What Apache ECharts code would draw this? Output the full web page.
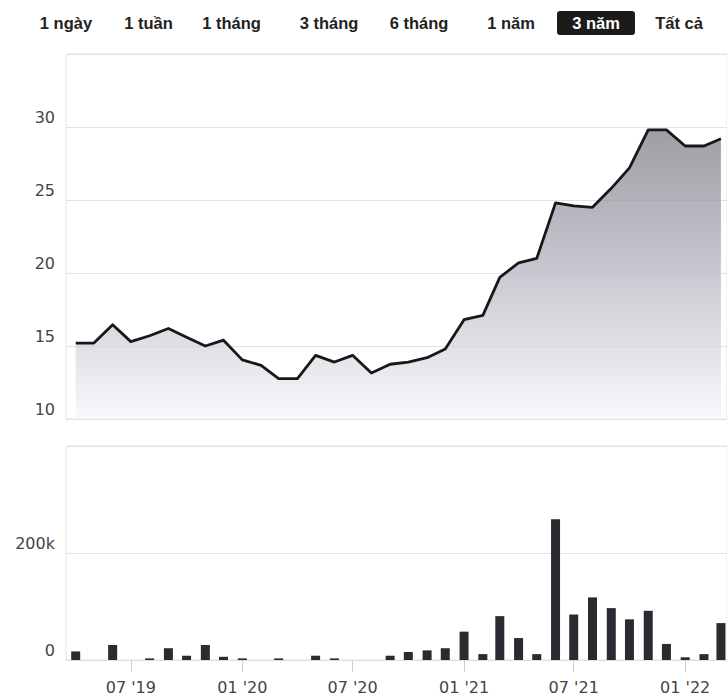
<!DOCTYPE html>
<html>
<head>
<meta charset="utf-8">
<script src="https://cdn.jsdelivr.net/npm/echarts@6/dist/echarts.min.js"></script>
<style>
html,body{margin:0;padding:0;background:#fff;}
#c{width:727px;height:695px;}
</style>
</head>
<body>
<div id="c"></div>
<script>
// ---- data ----
const months = [
  '2019-04-01','2019-05-01','2019-06-01','2019-07-01','2019-08-01','2019-09-01',
  '2019-10-01','2019-11-01','2019-12-01','2020-01-01','2020-02-01','2020-03-01',
  '2020-04-01','2020-05-01','2020-06-01','2020-07-01','2020-08-01','2020-09-01',
  '2020-10-01','2020-11-01','2020-12-01','2021-01-01','2021-02-01','2021-03-01',
  '2021-04-01','2021-05-01','2021-06-01','2021-07-01','2021-08-01','2021-09-01',
  '2021-10-01','2021-11-01','2021-12-01','2022-01-01','2022-02-01','2022-03-01'
];
const prices = [
  15.2, 15.2, 16.45, 15.3, 15.7, 16.2,
  15.6, 15.0, 15.4, 14.05, 13.67, 12.76,
  12.76, 14.36, 13.9, 14.36, 13.15, 13.75,
  13.9, 14.2, 14.8, 16.8, 17.1, 19.7,
  20.7, 21.0, 24.8, 24.6, 24.5, 25.8,
  27.2, 29.8, 29.8, 28.7, 28.7, 29.2
];
const volumes = [
  16000, null, 28000, null, 3000, 22000,
  8000, 28000, 6000, 3000, null, 3000,
  null, 8000, 3000, null, null, 8000,
  15000, 18000, 22000, 53000, 11000, 82000,
  41000, 11000, 263000, 85000, 117000, 97000,
  76000, 92000, 30000, 5000, 11000, 69000
];
const tickDates = ['2019-07-01','2020-01-01','2020-07-01','2021-01-01','2021-07-01','2022-01-01'];
const tickLabels = ["07 '19", "01 '20", "07 '20", "01 '21", "07 '21", "01 '22"];
const rangeButtons = ['1 ngày','1 tuần','1 tháng','3 tháng','6 tháng','1 năm','3 năm','Tất cả'];
const selectedRange = '3 năm';

// ---- layout ----
const buttonCenters = [66, 148.5, 231.5, 329, 419, 511, 596, 679];

const ts = s => { const p = s.split('-').map(Number); return Date.UTC(p[0], p[1]-1, p[2]); };
const tickTs = tickDates.map(ts);
const xMin = Date.UTC(2019, 2, 16);
const xMax = Date.UTC(2022, 2, 11);

const labelStyle = { fontFamily: 'DejaVu Sans', fontSize: 16, color: '#444' };

const graphics = [];
rangeButtons.forEach((t, i) => {
  const sel = t === selectedRange;
  if (sel) {
    graphics.push({ type: 'rect', z: 10, shape: { x: buttonCenters[i] - 39, y: 11, width: 78, height: 24, r: 3 }, style: { fill: '#1b1b1b' } });
  }
  graphics.push({
    type: 'text', z: 11,
    style: {
      text: t, x: buttonCenters[i], y: 23,
      align: 'center', verticalAlign: 'middle',
      font: 'bold 16.5px "Liberation Sans", Arial, sans-serif',
      fill: sel ? '#ffffff' : '#222222'
    }
  });
});

function nearestLabel(v) {
  let best = 0, bd = Infinity;
  tickTs.forEach((t, i) => { const d = Math.abs(t - v); if (d < bd) { bd = d; best = i; } });
  return tickLabels[best];
}

const chart = echarts.init(document.getElementById('c'), null, { renderer: 'svg', width: 727, height: 695 });
chart.setOption({
  animation: false,
  backgroundColor: '#ffffff',
  graphic: graphics,
  grid: [
    { left: 66, right: -3, top: 54, height: 365, show: true, borderColor: '#e4e4e4', borderWidth: 1 },
    { left: 66, right: -3, top: 446, height: 214, show: true, borderColor: '#e4e4e4', borderWidth: 1 }
  ],
  xAxis: [
    { type: 'value', gridIndex: 0, min: xMin, max: xMax, scale: true,
      axisLabel: { show: false }, axisTick: { show: false }, axisLine: { show: false }, splitLine: { show: false } },
    { type: 'value', gridIndex: 1, min: xMin, max: xMax, scale: true,
      axisLabel: Object.assign({
        customValues: tickTs, margin: 19, hideOverlap: false,
        formatter: nearestLabel
      }, labelStyle),
      axisTick: { show: true, customValues: tickTs, length: 12, lineStyle: { color: '#cfcfcf' } },
      axisLine: { show: true, onZero: false, lineStyle: { color: '#dedede' } },
      splitLine: { show: false } }
  ],
  yAxis: [
    { type: 'value', gridIndex: 0, min: 10, max: 35, interval: 5,
      axisLabel: Object.assign({ showMaxLabel: false, margin: 11, verticalAlign: 'bottom', padding: [0, 0, 2, 0] }, labelStyle),
      axisLine: { show: false }, axisTick: { show: false },
      splitLine: { show: true, lineStyle: { color: '#e2e2e2', width: 1 } } },
    { type: 'value', gridIndex: 1, min: 0, max: 400000, interval: 200000,
      axisLabel: Object.assign({ showMaxLabel: false, margin: 11, verticalAlign: 'bottom', padding: [0, 0, 2, 0],
        formatter: v => v === 0 ? '0' : (v / 1000) + 'k' }, labelStyle),
      axisLine: { show: false }, axisTick: { show: false },
      splitLine: { show: true, lineStyle: { color: '#e2e2e2', width: 1 } } }
  ],
  series: [
    { type: 'line', xAxisIndex: 0, yAxisIndex: 0,
      data: months.map((m, i) => [ts(m), prices[i]]),
      symbol: 'none', smooth: false,
      lineStyle: { color: '#18181a', width: 2.8, join: 'round' },
      areaStyle: { color: new echarts.graphic.LinearGradient(0, 0, 0, 1, [
        { offset: 0, color: '#79747f' },
        { offset: 0.35, color: '#a19daa' },
        { offset: 0.7, color: '#cfccd6' },
        { offset: 1, color: '#f6f5f9' }
      ]) } },
    { type: 'bar', xAxisIndex: 1, yAxisIndex: 1,
      data: months.map((m, i) => [ts(m), volumes[i]]),
      barWidth: 9, itemStyle: { color: '#2b2a30' } }
  ]
});
</script>
</body>
</html>
